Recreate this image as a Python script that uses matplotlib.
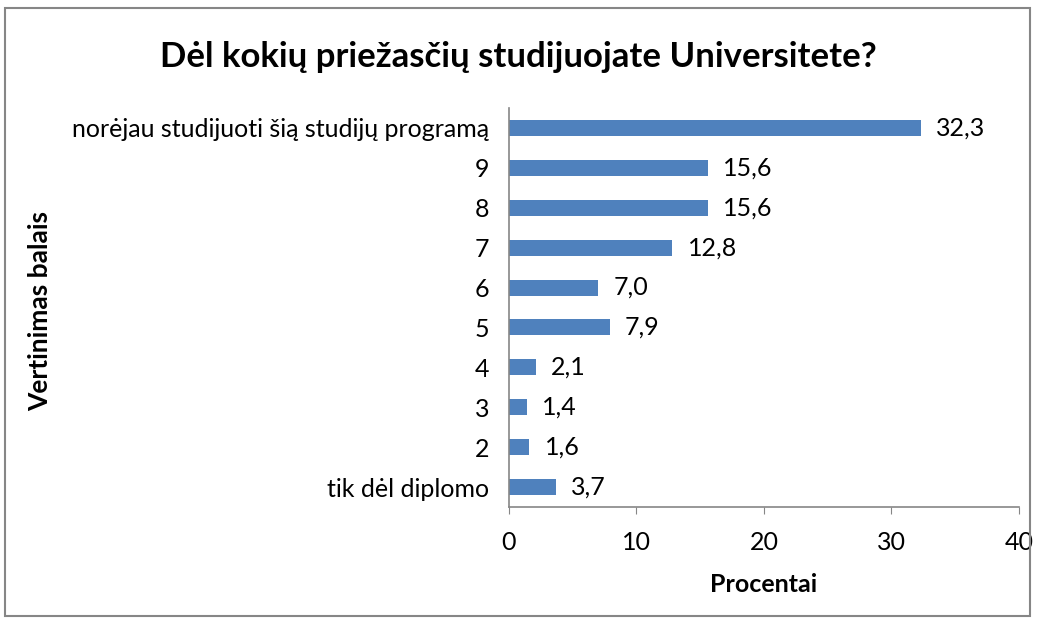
import matplotlib.pyplot as plt
from matplotlib.patches import Rectangle

plt.rcParams['font.family'] = ['Lato', 'DejaVu Sans']

# data (bottom to top)
categories = ['tik dėl diplomo', '2', '3', '4', '5', '6', '7', '8', '9',
              'norėjau studijuoti šią studijų programą']
values = [3.7, 1.6, 1.4, 2.1, 7.9, 7.0, 12.8, 15.6, 15.6, 32.3]
x_ticks = [0, 10, 20, 30, 40]

bar_color = '#4F81BD'
axis_color = '#868686'

fig = plt.figure(figsize=(10.37, 6.24), dpi=100)
ax = fig.add_axes([0.4908, 0.1875, 0.4918, 0.6394])

ypos = range(len(categories))
bars = ax.barh(ypos, values, height=0.4, color=bar_color)

for y, v in zip(ypos, values):
    ax.text(v + 1.2, y, f'{v:.1f}'.replace('.', ','), va='center', ha='left',
            fontsize=18, color='black')

ax.set_xlim(0, 40)
ax.set_ylim(-0.5, len(categories) - 0.5)
ax.set_xticks(x_ticks)
ax.set_yticks(list(ypos))
ax.set_yticklabels(categories)
ax.tick_params(axis='y', length=0, labelsize=18, pad=14)
ax.tick_params(axis='x', length=5, color=axis_color, labelsize=18, pad=12, direction='out')

for side in ['top', 'right']:
    ax.spines[side].set_visible(False)
for side in ['left', 'bottom']:
    ax.spines[side].set_color(axis_color)
    ax.spines[side].set_linewidth(1.2)

ax.set_xlabel('Procentai', fontsize=18, fontweight='bold', labelpad=14)
fig.text(0.039, 0.502, 'Vertinimas balais', rotation=90, va='center', ha='center',
         fontsize=19, fontweight='bold')
fig.text(0.5, 0.908, 'Dėl kokių priežasčių studijuojate Universitete?', ha='center',
         va='center', fontsize=25, fontweight='bold')

# outer frame
fig.patches.append(Rectangle((5 / 1037, 8 / 624), 1 - 12 / 1037, 1 - 16 / 624,
                             transform=fig.transFigure, fill=False,
                             edgecolor=axis_color, linewidth=1.5))

plt.savefig('out.png', dpi=100)
